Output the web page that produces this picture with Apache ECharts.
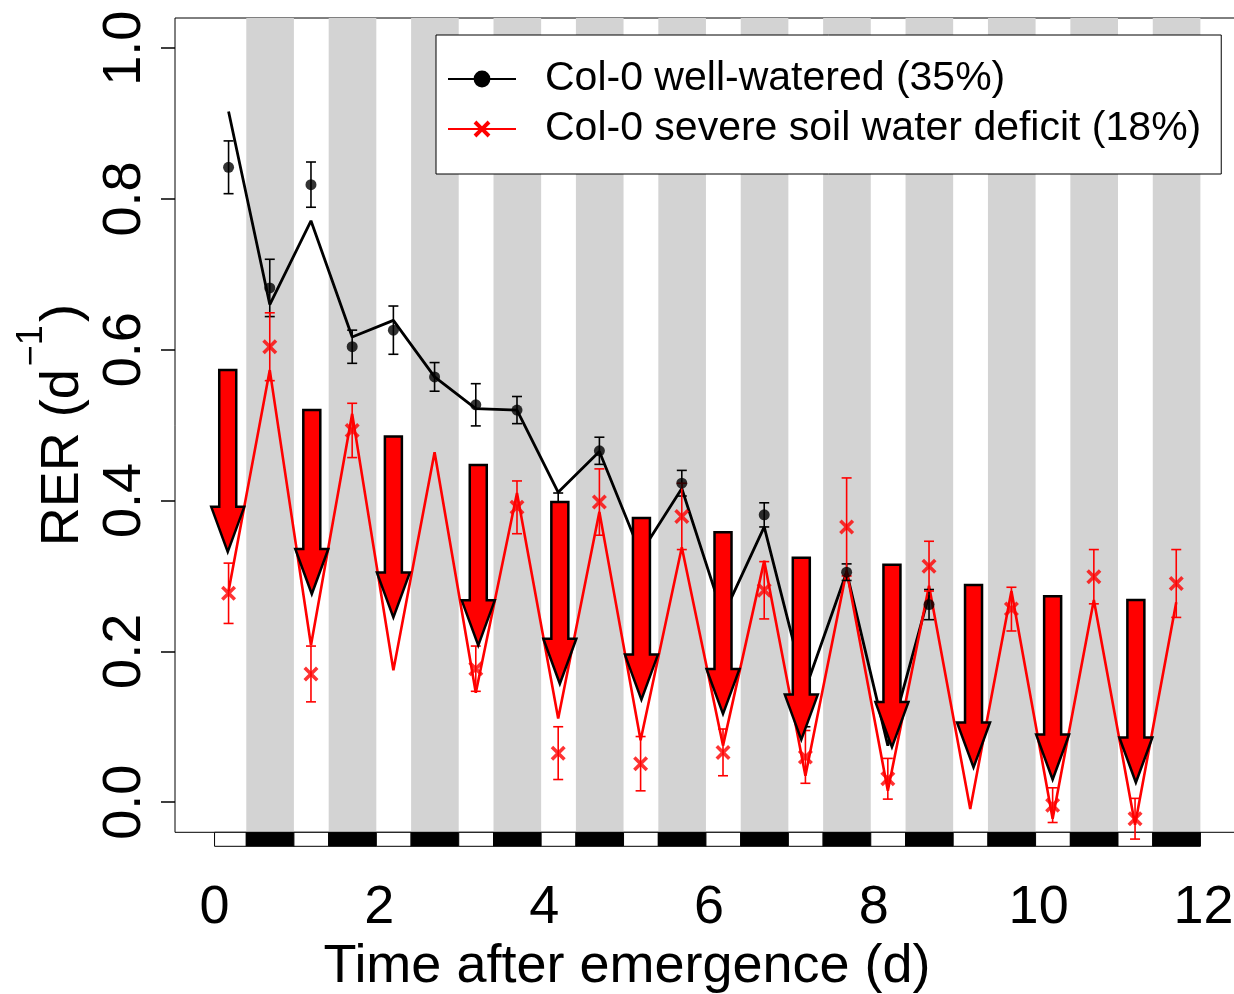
<!DOCTYPE html>
<html lang="en">
<head>
<meta charset="UTF-8">
<title>RER</title>
<script src="https://cdn.jsdelivr.net/npm/echarts@6/dist/echarts.min.js"></script>
<style>
html, body { margin: 0; padding: 0; background: #fff; }
#chart { width: 1234px; height: 994px; }
</style>
</head>
<body>
<div id="chart"></div>
<script>
// sampling times (d): middle of each light and dark period
var times = [0.17, 0.67, 1.17, 1.67, 2.17, 2.67, 3.17, 3.67, 4.17, 4.67, 5.17, 5.67,
             6.17, 6.67, 7.17, 7.67, 8.17, 8.67, 9.17, 9.67, 10.17, 10.67, 11.17, 11.67];

// well-watered: fitted line, measured means and errors (until 8.67 d)
var wwLine = [0.916, 0.66, 0.771, 0.617, 0.639, 0.564, 0.522, 0.520, 0.411, 0.465, 0.33, 0.416,
              0.247, 0.365, 0.15, 0.305, 0.075, 0.275];
var wwMean = [0.842, 0.682, 0.819, 0.604, 0.626, 0.564, 0.527, 0.520, 0.375, 0.466, 0.30, 0.423,
              0.22, 0.381, 0.12, 0.305, 0.11, 0.262];
var wwErr  = [0.035, 0.038, 0.030, 0.022, 0.032, 0.019, 0.028, 0.018, 0.035, 0.018, 0.03, 0.017,
              0.02, 0.016, 0.02, 0.011, 0.012, 0.02];

// severe deficit
var sdLine = [0.28, 0.573, 0.208, 0.515, 0.175, 0.464, 0.145, 0.41, 0.111, 0.385, 0.082, 0.338,
              0.075, 0.32, 0.035, 0.307, 0.015, 0.287, -0.009, 0.28, -0.022, 0.268, -0.03, 0.265];
var sdMean = [0.277, 0.604, 0.170, 0.493, null, null, 0.177, 0.391, 0.065, 0.398, 0.051, 0.379,
              0.066, 0.281, 0.06, 0.365, 0.031, 0.313, null, 0.256, -0.004, 0.299, -0.022, 0.29];
var sdErr  = [0.04, 0.045, 0.037, 0.036, null, null, 0.03, 0.035, 0.035, 0.044, 0.036, 0.044,
              0.031, 0.038, 0.035, 0.065, 0.027, 0.033, null, 0.029, 0.023, 0.036, 0.027, 0.045];

// red arrows: x, top value, tip value
var arrowX   = [0.16, 1.18, 2.17, 3.2, 4.19, 5.18, 6.17, 7.12, 8.22, 9.21, 10.17, 11.18];
var arrowTop = [0.573, 0.520, 0.485, 0.447, 0.398, 0.377, 0.358, 0.324, 0.315, 0.288, 0.273, 0.268];
var arrowTip = [0.332, 0.276, 0.245, 0.208, 0.157, 0.136, 0.117, 0.083, 0.073, 0.046, 0.030, 0.026];

// night periods (d)
var nightStart = [0.385, 1.385, 2.385, 3.385, 4.385, 5.385, 6.385, 7.385, 8.385, 9.385, 10.385, 11.385];
var nightEnd   = [0.963, 1.963, 2.963, 3.963, 4.963, 5.963, 6.963, 7.963, 8.963, 9.963, 10.963, 11.963];

var xTicks = [0, 2, 4, 6, 8, 10, 12];
var yTicks = [0, 0.2, 0.4, 0.6, 0.8, 1.0];

var nameWW = 'Col-0 well-watered (35%)';
var nameSD = 'Col-0 severe soil water deficit (18%)';
var FONT = 'Liberation Sans, Arial, sans-serif';
var xMark = 'path://M0,2 L2,0 L6,4 L10,0 L12,2 L8,6 L12,10 L10,12 L6,8 L2,12 L0,10 L4,6 Z';

var bands = nightStart.map(function (s, i) { return [s, nightEnd[i], 0]; });
var strip = [];
var prev = 0;
nightStart.forEach(function (s, i) {
	strip.push([prev, s, 0]);
	strip.push([s, nightEnd[i], 1]);
	prev = nightEnd[i];
});

function pairs(xs, ys) {
	var out = [];
	ys.forEach(function (y, i) { if (y !== null) out.push([xs[i], y]); });
	return out;
}
function errData(means, errs) {
	var out = [];
	means.forEach(function (m, i) {
		if (m !== null) out.push([times[i], m - errs[i], m + errs[i]]);
	});
	return out;
}

function renderBand(params, api) {
	var cs = params.coordSys;
	var a = api.coord([api.value(0), 0]);
	var b = api.coord([api.value(1), 0]);
	return { type: 'rect', shape: { x: a[0], y: cs.y, width: b[0] - a[0], height: cs.height },
		style: { fill: '#d3d3d3' } };
}
function renderStrip(params, api) {
	var cs = params.coordSys;
	var a = api.coord([api.value(0), 0]);
	var b = api.coord([api.value(1), 0]);
	return { type: 'rect', shape: { x: a[0], y: cs.y + cs.height, width: b[0] - a[0], height: 14 },
		style: { fill: api.value(2) === 1 ? '#000' : '#fff', stroke: '#000', lineWidth: 1 } };
}
function errRenderer(color) {
	return function (params, api) {
		var x = api.value(0);
		var p1 = api.coord([x, api.value(1)]);
		var p2 = api.coord([x, api.value(2)]);
		var st = { stroke: color, lineWidth: 1.6 };
		return { type: 'group', children: [
			{ type: 'line', shape: { x1: p1[0], y1: p1[1], x2: p2[0], y2: p2[1] }, style: st },
			{ type: 'line', shape: { x1: p1[0] - 5, y1: p1[1], x2: p1[0] + 5, y2: p1[1] }, style: st },
			{ type: 'line', shape: { x1: p2[0] - 5, y1: p2[1], x2: p2[0] + 5, y2: p2[1] }, style: st }
		] };
	};
}
function renderArrow(params, api) {
	var x = api.value(0);
	var top = api.coord([x, api.value(1)]);
	var tip = api.coord([x, api.value(2)]);
	var cx = top[0], sw = 8.5, hw = 16.5, base = tip[1] - 45;
	return { type: 'polygon',
		shape: { points: [[cx - sw, top[1]], [cx + sw, top[1]], [cx + sw, base], [cx + hw, base],
			[cx, tip[1]], [cx - hw, base], [cx - sw, base]] },
		style: { fill: '#ff0000', stroke: '#000', lineWidth: 2.5 } };
}

var chart = echarts.init(document.getElementById('chart'));
chart.setOption({
	animation: false,
	backgroundColor: '#fff',
	textStyle: { fontFamily: FONT },
	grid: { left: 175, top: 18, width: 1068, height: 814.3, show: true, borderColor: '#000', borderWidth: 1,
		containLabel: false, outerBoundsMode: 'none' },
	legend: {
		data: [nameWW, nameSD],
		orient: 'vertical', left: 436, top: 35, z: 10,
		padding: [23, 20, 24, 11], itemGap: 8, itemWidth: 68, itemHeight: 21,
		backgroundColor: '#fff', borderColor: '#000', borderWidth: 1,
		textStyle: { fontSize: 41, fontFamily: FONT, color: '#000', lineHeight: 42, padding: [0, 0, 0, 24] }
	},
	xAxis: {
		type: 'value', min: -0.48, max: 12.48,
		name: 'Time after emergence (d)', nameLocation: 'middle', nameGap: 107,
		nameTextStyle: { fontSize: 54, fontFamily: FONT, color: '#000', padding: [0, 164, 0, 0] },
		axisLine: { show: false, onZero: false }, axisTick: { show: false }, splitLine: { show: false },
		axisLabel: { customValues: xTicks, fontSize: 54, fontFamily: FONT, color: '#000', margin: 49 }
	},
	yAxis: {
		type: 'value', min: -0.04, max: 1.04,
		name: '{m|RER (d}{sup|\u22121}{m|)}', nameLocation: 'middle', nameRotate: 90, nameGap: 89,
		nameTextStyle: { fontSize: 54, fontFamily: FONT, color: '#000',
			rich: {
				m: { fontSize: 54, fontFamily: FONT, color: '#000', lineHeight: 54, padding: [22, 0, 0, 0] },
				sup: { fontSize: 36, fontFamily: FONT, color: '#000', lineHeight: 36, padding: [0, 3, 40, 3] }
			} },
		axisLine: { show: false, onZero: false }, splitLine: { show: false },
		axisTick: { show: true, customValues: yTicks, length: 14, lineStyle: { color: '#000', width: 1.5 } },
		axisLabel: { customValues: yTicks, rotate: 90, fontSize: 54, fontFamily: FONT, color: '#000', margin: 23,
			formatter: function (v) { return v.toFixed(1); } }
	},
	series: [
		{ type: 'custom', name: 'night', renderItem: renderBand, data: bands, encode: { x: [0, 1], y: 2 }, z: 0, silent: true },
		{ type: 'custom', name: 'strip', renderItem: renderStrip, data: strip, encode: { x: [0, 1], y: 2 }, clip: false, z: 1, silent: true },
		{ type: 'line', name: nameWW, data: pairs(times, wwLine), symbol: 'circle', showSymbol: false,
			lineStyle: { color: '#000', width: 2.8 }, itemStyle: { color: '#000' }, z: 2 },
		{ type: 'line', name: nameSD, data: pairs(times, sdLine), symbol: xMark, showSymbol: false,
			lineStyle: { color: '#ff0000', width: 2.6 }, itemStyle: { color: '#ff0000' }, z: 2 },
		{ type: 'custom', name: 'wwErr', renderItem: errRenderer('#000'), data: errData(wwMean, wwErr), encode: { x: 0, y: [1, 2] }, z: 3 },
		{ type: 'custom', name: 'sdErr', renderItem: errRenderer('#ff0000'), data: errData(sdMean, sdErr), encode: { x: 0, y: [1, 2] }, z: 3 },
		{ type: 'scatter', name: 'wwPts', data: pairs(times, wwMean), symbol: 'circle', symbolSize: 11,
			itemStyle: { color: '#000' }, z: 4 },
		{ type: 'scatter', name: 'sdPts', data: pairs(times, sdMean), symbol: xMark, symbolSize: 15,
			itemStyle: { color: '#ff0000' }, z: 4 },
		{ type: 'custom', name: 'arrows', renderItem: renderArrow,
			data: arrowX.map(function (x, i) { return [x, arrowTop[i], arrowTip[i]]; }),
			encode: { x: 0, y: [1, 2] }, z: 5 }
	]
});
</script>
</body>
</html>
